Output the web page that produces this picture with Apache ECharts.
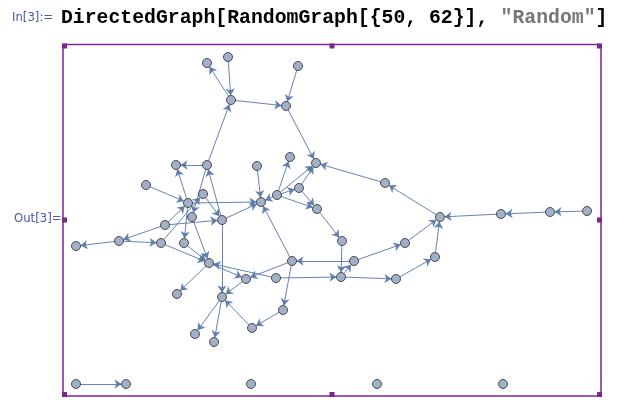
<!DOCTYPE html>
<html>
<head>
<meta charset="utf-8">
<script src="https://cdn.jsdelivr.net/npm/echarts@6/dist/echarts.min.js"></script>
<style>
  html, body { margin: 0; padding: 0; background: #fff; }
  #main { width: 632px; height: 405px; }
</style>
</head>
<body>
<div id="main"></div>
<script>
// vertex names and their layout positions (x right, y up, frame units)
var nodeNames = ['A1','A2','A3','B1','B2','C1','C2','C3','C4','C5',
                 'D1','D2','D3','D4','E1','E2','E3','F1','F2','G1',
                 'G2','H1','H2','H3','H4','I1','I2','I3','J1','J2',
                 'J3','K1','K2','L1','L2','M1','M2','N1','O1','O2',
                 'O3','O4','P1','P2','P3','Q1','Q2','R1','R2','R3'];
var nodeX = [144,165,235,168,223,113,144,194,227,253,
             83,140,236,214,125,198,254,129,159,102,
             279,56,13,98,121,146,229,291,183,213,
             278,114,159,220,189,132,151,322,377,438,
             487,524,342,372,333,13,63,188,314,440];
var nodeY = [333,339,330,296,290,231,231,230,239,233,
             211,202,208,201,193,194,187,179,176,171,
             155,155,150,153,153,133,135,135,117,118,
             119,102,99,86,68,62,54,213,179,182,
             184,185,153,139,117,12,12,12,12,12];

// directed edges: source -> target
var edgeFrom = ['B1','A2','B1','A3','B2','C2','C2','E1','D1','E1',
                'F2','C2','E1','D2','G1','H3','G1','G1','H1','H1',
                'H3','H4','F1','C3','D4','D4','D3','D4','D4','D3',
                'D4','I2','F2','N1','O1','E3','G2','J3','I3','I3',
                'P1','J3','P3','P2','O2','O3','O4','J2','I2','I2',
                'L1','L2','J1','F2','K2','K2','I1','I1','J2','Q1'];
var edgeTo   = ['A1','B1','B2','B2','C5','B1','C1','C1','E1','E2',
                'C2','F1','H4','F2','E1','D2','F2','H1','H2','H3',
                'I1','I1','I1','E2','C4','C5','C5','D3','E3','E3',
                'E2','E2','E2','C5','N1','G2','J3','I3','I2','P1',
                'O1','P3','P2','O1','O1','O2','O3','J3','L1','J1',
                'L2','K2','K2','K2','M1','M2','K1','J1','I1','Q2'];

// text of the notebook cell
var inLabel = 'In[3]:=';
var outLabel = 'Out[3]=';
var codeParts = ['DirectedGraph[RandomGraph[{50, 62}], ', '"Random"', ']'];
var codeColors = ['#000', '#777', '#000'];

var chart = echarts.init(document.getElementById('main'));

var nodes = [];
for (var i = 0; i < nodeNames.length; i++) {
  nodes.push({ name: nodeNames[i], value: [nodeX[i], nodeY[i]] });
}
var links = [];
for (var j = 0; j < edgeFrom.length; j++) {
  links.push({ source: edgeFrom[j], target: edgeTo[j] });
}

var purple = '#7d2592';
function handle(x, y) {
  return {
    type: 'rect',
    shape: { x: x - 2.5, y: y - 2.5, width: 5, height: 5 },
    style: { fill: purple },
    z: 10
  };
}

// monospace code line, one text element per colour run
var codeFont = 'bold 19.8px "Liberation Mono", "DejaVu Sans Mono", monospace';
var labelFont = '13px "Liberation Sans Narrow", "DejaVu Sans Condensed", sans-serif';
var charW = 19.8 * 0.6;
var graphics = [
  {
    type: 'text', x: 12, y: 18,
    style: { text: inLabel, font: labelFont, fill: '#4956aa', verticalAlign: 'middle' }
  },
  {
    type: 'text', x: 14, y: 219,
    style: { text: outLabel, font: labelFont, fill: '#4956aa', verticalAlign: 'middle' }
  }
];
var cx = 61;
for (var k = 0; k < codeParts.length; k++) {
  graphics.push({
    type: 'text', x: cx, y: 18,
    style: { text: codeParts[k], font: codeFont, fill: codeColors[k], verticalAlign: 'middle' }
  });
  cx += codeParts[k].length * charW;
}
graphics.push(
  handle(64.5, 46), handle(332, 46), handle(599.5, 46),
  handle(64.5, 220), handle(599.5, 220),
  handle(64.5, 394.5), handle(332, 394.5), handle(599.5, 394.5)
);

var option = {
  animation: false,
  backgroundColor: '#fff',
  grid: {
    left: 63, top: 44.5, width: 538, height: 351.5,
    show: true, borderColor: purple, borderWidth: 1.5, backgroundColor: 'transparent'
  },
  xAxis: { type: 'value', min: 0, max: 538, show: false },
  yAxis: { type: 'value', min: 0, max: 351.5, show: false },
  graphic: graphics,
  series: [{
    type: 'graph',
    coordinateSystem: 'cartesian2d',
    layout: 'none',
    symbol: 'circle',
    symbolSize: 9,
    data: nodes,
    links: links,
    edgeSymbol: ['none', 'arrow'],
    edgeSymbolSize: [0, 7],
    label: { show: false },
    itemStyle: { color: '#a1afc8', borderColor: '#3a3a3a', borderWidth: 0.9 },
    lineStyle: { color: '#5675a8', width: 1, opacity: 0.9, curveness: 0 },
    emphasis: { disabled: true }
  }]
};
chart.setOption(option);
</script>
</body>
</html>
